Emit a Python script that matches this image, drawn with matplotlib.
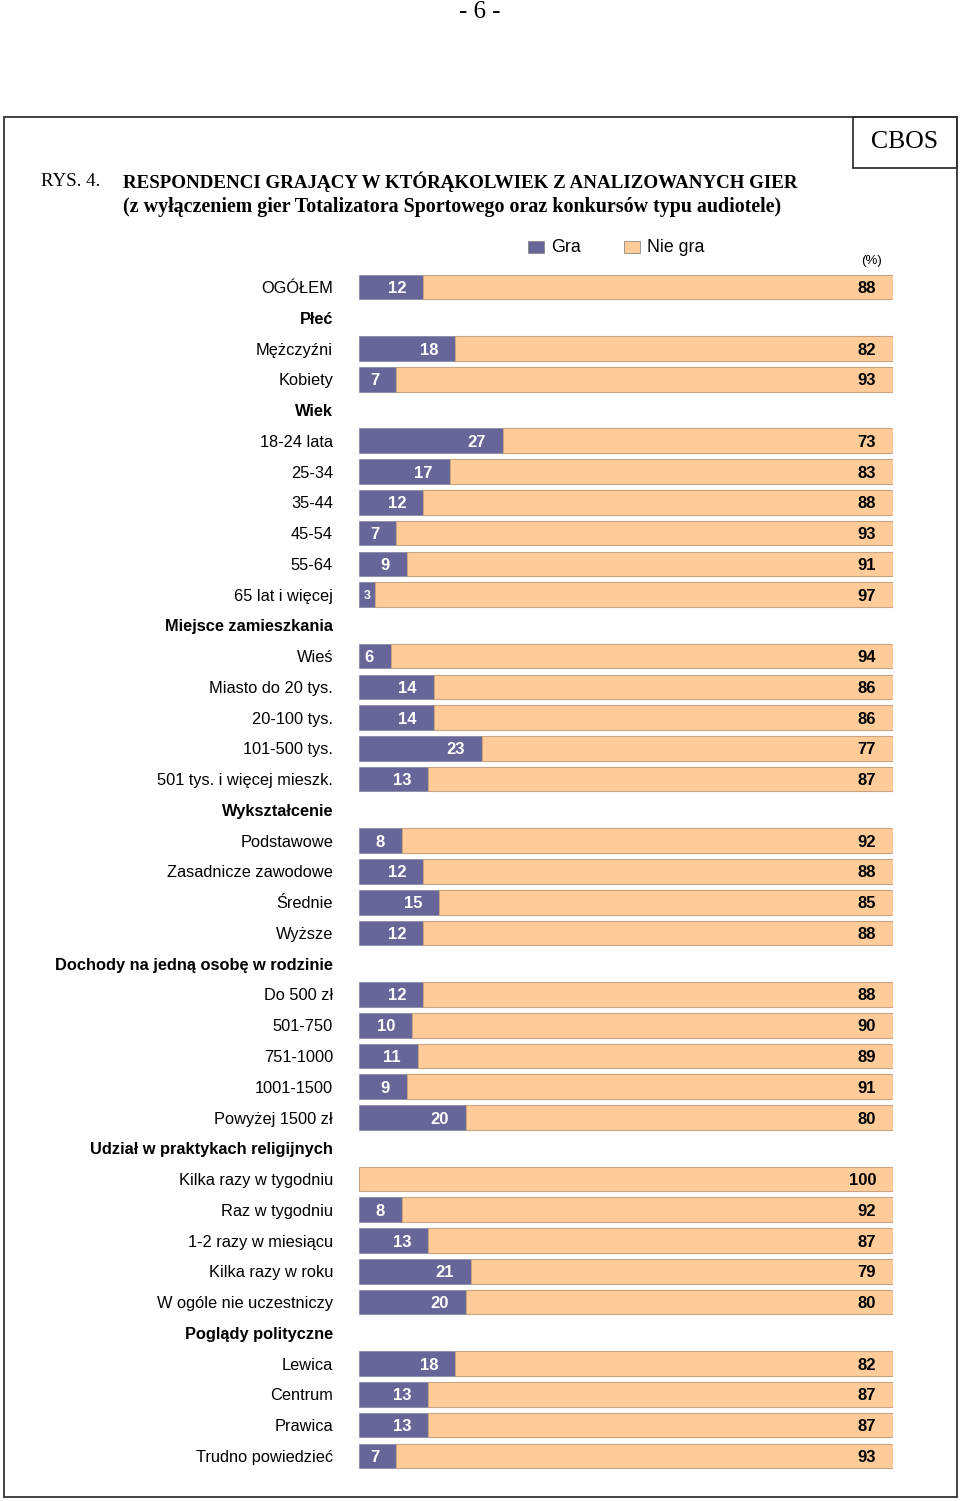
import matplotlib
matplotlib.use("Agg")
import matplotlib.pyplot as plt
from matplotlib.patches import Rectangle

categories = [
    "OGÓŁEM", "Płeć", "Mężczyźni", "Kobiety", "Wiek", "18-24 lata", "25-34", "35-44",
    "45-54", "55-64", "65 lat i więcej", "Miejsce zamieszkania", "Wieś",
    "Miasto do 20 tys.", "20-100 tys.", "101-500 tys.", "501 tys. i więcej mieszk.",
    "Wykształcenie", "Podstawowe", "Zasadnicze zawodowe", "Średnie", "Wyższe",
    "Dochody na jedną osobę w rodzinie", "Do 500 zł", "501-750", "751-1000",
    "1001-1500", "Powyżej 1500 zł", "Udział w praktykach religijnych",
    "Kilka razy w tygodniu", "Raz w tygodniu", "1-2 razy w miesiącu",
    "Kilka razy w roku", "W ogóle nie uczestniczy", "Poglądy polityczne",
    "Lewica", "Centrum", "Prawica", "Trudno powiedzieć",
]
# None marks a group header row
gra = [12, None, 18, 7, None, 27, 17, 12, 7, 9, 3, None, 6, 14, 14, 23, 13,
       None, 8, 12, 15, 12, None, 12, 10, 11, 9, 20, None, 0, 8, 13, 21, 20,
       None, 18, 13, 13, 7]
nie_gra = [88, None, 82, 93, None, 73, 83, 88, 93, 91, 97, None, 94, 86, 86, 77, 87,
           None, 92, 88, 85, 88, None, 88, 90, 89, 91, 80, None, 100, 92, 87, 79, 80,
           None, 82, 87, 87, 93]
series_names = ["Gra", "Nie gra"]

C_GRA = "#666699"
C_NIE = "#FFCC99"
SANS = ["Liberation Sans", "DejaVu Sans"]
SERIF = ["Liberation Serif", "DejaVu Serif"]

W, H = 960, 1501
fig = plt.figure(figsize=(W / 100, H / 100), dpi=100)

def fx(x): return x / W
def fy(y): return 1 - y / H

# frame & CBOS box
fig.patches.append(Rectangle((fx(4), fy(1497)), fx(957) - fx(4), fy(117) - fy(1497),
                             transform=fig.transFigure, fill=False, lw=1.3, ec="#333333"))
fig.patches.append(Rectangle((fx(853), fy(168)), fx(957) - fx(853), fy(117) - fy(168),
                             transform=fig.transFigure, fill=False, lw=1.3, ec="#333333"))
fig.text(fx(480), fy(12), "- 6 -", ha="center", va="center", fontsize=18, family=SERIF)
fig.text(fx(905), fy(142), "CBOS", ha="center", va="center", fontsize=18.5, family=SERIF)
fig.text(fx(41), fy(182), "RYS. 4.", ha="left", va="center", fontsize=13.6, family=SERIF)
fig.text(fx(123), fy(182), "RESPONDENCI GRAJĄCY W KTÓRĄKOLWIEK Z ANALIZOWANYCH GIER",
         ha="left", va="center", fontsize=13.65, family=SERIF, weight="bold")
fig.text(fx(123), fy(207), "(z wyłączeniem gier Totalizatora Sportowego oraz konkursów typu audiotele)",
         ha="left", va="center", fontsize=14.4, family=SERIF, weight="bold")

# bars axes: spans full figure height; rows mapped via ylim
row0, step = 287, 30.76
ax = fig.add_axes([fx(359), 0, (893 - 359) / W, 1])
ax.set_xlim(0, 100)
ax.set_ylim((H - row0) / step, -row0 / step)
ax.axis("off")

for i, (cat, g, n) in enumerate(zip(categories, gra, nie_gra)):
    header = g is None
    ax.annotate(cat, xy=(0, i), xytext=(-26, 0), textcoords="offset pixels",
                ha="right", va="center_baseline", fontsize=11.8, family=SANS,
                weight="bold" if header else "normal", annotation_clip=False)
    if header:
        continue
    ax.barh(i, g, height=0.8, color=C_GRA, edgecolor="#8a8aa8", lw=0.6)
    ax.barh(i, n, left=g, height=0.8, color=C_NIE, edgecolor="#c9a27f", lw=0.8)
    if g >= 5:
        ax.annotate(str(g), xy=(g, i), xytext=(-17, 0), textcoords="offset pixels",
                    ha="right", va="center_baseline", fontsize=12, weight="bold",
                    color="white", family=SANS)
    elif g > 0:
        ax.annotate(str(g), xy=(g / 2, i), ha="center", va="center_baseline",
                    fontsize=9, weight="bold", color="white", family=SANS)
    ax.annotate(str(n), xy=(100, i), xytext=(-17, 0), textcoords="offset pixels",
                ha="right", va="center_baseline", fontsize=12, weight="bold",
                color="black", family=SANS)

# legend (manual, in figure coords)
for (x0, name, col) in [(528, series_names[0], C_GRA), (624, series_names[1], C_NIE)]:
    fig.patches.append(Rectangle((fx(x0), fy(253)), 16 / W, 12 / H, transform=fig.transFigure,
                                 fc=col, ec="#888888", lw=0.6))
    fig.text(fx(x0 + 23), fy(247), name, ha="left", va="center", fontsize=12.8, family=SANS)
fig.text(fx(871), fy(261), "(%)", ha="center", va="center", fontsize=9.5, family=SANS)

fig.savefig("out.png", dpi=100)
